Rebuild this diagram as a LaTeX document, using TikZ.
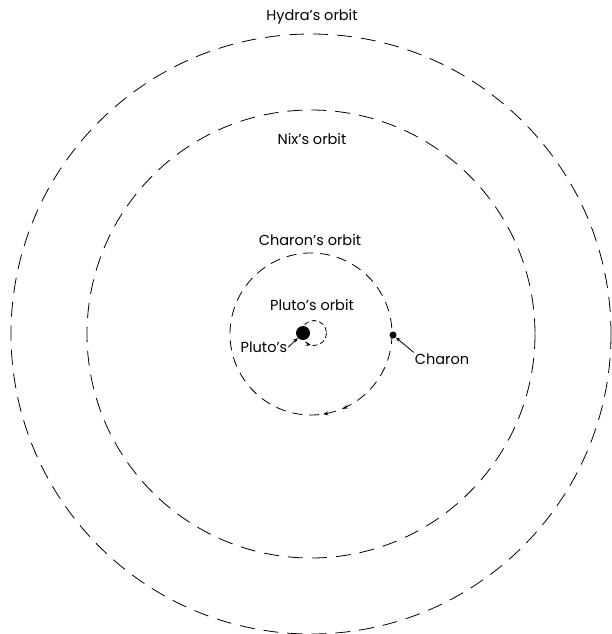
\documentclass[tikz,border=0pt]{standalone}
\usepackage{fontspec}
\setmainfont{Poppins}
\usetikzlibrary{arrows.meta, positioning, decorations.markings}

\begin{document}
\begin{tikzpicture}[
        x=1pt, y=-1pt,
        orbit/.style={draw, line width=0.8pt, dash pattern=on 15pt off 9pt},
        innerorbit/.style={draw, line width=0.8pt, dash pattern=on 10pt off 7pt},
        tinyorbit/.style={draw, line width=0.8pt, dash pattern=on 5pt off 3pt},
        planet/.style={circle, fill=black, inner sep=0pt},
        lbl/.style={font=\fontsize{14.5}{17}\selectfont, inner sep=1pt},
        tip/.style={-{Stealth[length=5pt, width=4pt]}, line width=0.8pt}
    ]
        \useasboundingbox (0,0) rectangle (611,634);
        \coordinate (bary) at (311,334);

        % The orbits
        \draw[orbit] (bary) circle[radius=300];
        \draw[orbit] (bary) circle[radius=224];
        \draw[innerorbit, postaction={decorate}, decoration={markings,
            mark=at position 0.186 with {\arrow{Stealth[length=5pt, width=4pt]}},
            mark=at position 0.226 with {\arrow{Stealth[length=5pt, width=4pt]}}}]
            (bary) circle[radius=81];
        \draw[tinyorbit, postaction={decorate}, decoration={markings,
            mark=at position 0.29 with {\arrowreversed{Stealth[length=5pt, width=4pt]}}}]
            (314,333) circle[radius=12.5];

        % Bodies
        \node[planet, minimum size=14pt] (pluto) at (303,333) {};
        \node[planet, minimum size=7pt] (charon) at (393,335) {};

        % Labels
        \node[lbl] (hydra) at (312,17) {Hydra's orbit};
        \node[lbl] (nix) at (312,139) {Nix's orbit};
        \node[lbl] (charonorbit) at (310,240) {Charon's orbit};
        \node[lbl] (plutoorbit) at (312,305) {Pluto's orbit};
        \node[lbl] (plutolabel) at (264,347) {Pluto's};
        \node[lbl] (charonlabel) at (442,359) {Charon};

        % Pointers
        \draw[tip] (plutolabel.east) -- (pluto);
        \draw[tip] (charonlabel.north west) -- (charon);
    \end{tikzpicture}
\end{document}
